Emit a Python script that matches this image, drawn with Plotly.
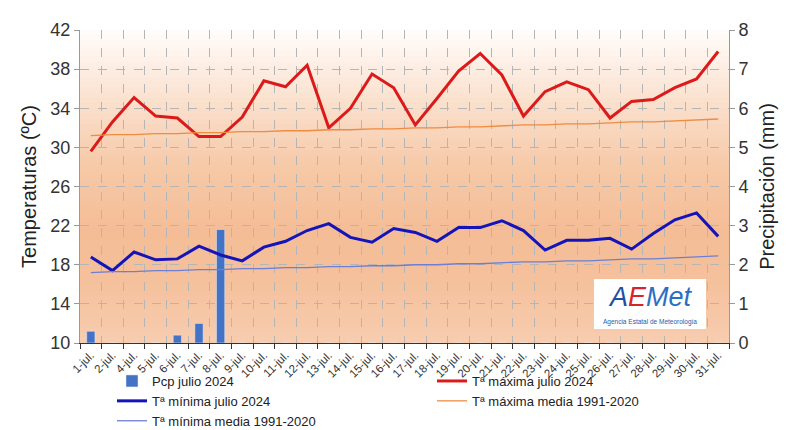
import plotly.graph_objects as go

days = ["1-jul.", "2-jul.", "4-jul.", "5-jul.", "6-jul.", "7-jul.", "8-jul.", "9-jul.", "10-jul.",
        "11-jul.", "12-jul.", "13-jul.", "14-jul.", "15-jul.", "16-jul.", "17-jul.", "18-jul.",
        "19-jul.", "20-jul.", "21-jul.", "22-jul.", "23-jul.", "24-jul.", "25-jul.", "26-jul.",
        "27-jul.", "28-jul.", "29-jul.", "30-jul.", "31-jul."]

pcp = [0.3, 0, 0, 0, 0.2, 0.5, 2.9, 0, 0, 0, 0, 0, 0, 0, 0,
       0, 0, 0, 0, 0, 0, 0, 0, 0, 0, 0, 0, 0, 0, 0]

tmax = [29.6, 32.6, 35.1, 33.2, 33.0, 31.1, 31.1, 33.1, 36.8, 36.2, 38.4, 32.0, 34.0, 37.5, 36.1,
        32.3, 35.0, 37.8, 39.6, 37.4, 33.2, 35.7, 36.7, 35.9, 33.0, 34.7, 34.9, 36.1, 37.0, 39.8]

tmin = [18.8, 17.4, 19.3, 18.5, 18.6, 19.9, 19.0, 18.4, 19.8, 20.4, 21.5, 22.2, 20.8, 20.3, 21.7,
        21.3, 20.4, 21.8, 21.8, 22.5, 21.5, 19.5, 20.5, 20.5, 20.7, 19.6, 21.2, 22.6, 23.3, 20.9]

tmax_mean = [31.2, 31.3, 31.3, 31.4, 31.4, 31.5, 31.5, 31.6, 31.6, 31.7, 31.7, 31.8, 31.8, 31.9, 31.9,
             32.0, 32.0, 32.1, 32.1, 32.2, 32.3, 32.3, 32.4, 32.4, 32.5, 32.6, 32.6, 32.7, 32.8, 32.9]

tmin_mean = [17.2, 17.3, 17.3, 17.4, 17.4, 17.5, 17.5, 17.6, 17.6, 17.7, 17.7, 17.8, 17.8, 17.9, 17.9,
             18.0, 18.0, 18.1, 18.1, 18.2, 18.3, 18.3, 18.4, 18.4, 18.5, 18.6, 18.6, 18.7, 18.8, 18.9]

temp_ticks = [10, 14, 18, 22, 26, 30, 34, 38, 42]
pcp_ticks = [0, 1, 2, 3, 4, 5, 6, 7, 8]

FONT = "Liberation Sans, Arial, sans-serif"

fig = go.Figure()
fig.add_trace(go.Bar(x=days, y=pcp, name="Pcp julio 2024", marker_color="#4472C4",
                     width=0.38, yaxis="y"))
fig.add_trace(go.Scatter(x=days, y=tmax, name="Tª máxima julio 2024", mode="lines",
                         line=dict(color="#DD1A1A", width=3), yaxis="y2"))
fig.add_trace(go.Scatter(x=days, y=tmin, name="Tª mínima julio 2024", mode="lines",
                         line=dict(color="#1414B8", width=3), yaxis="y2"))
fig.add_trace(go.Scatter(x=days, y=tmax_mean, name="Tª máxima media 1991-2020", mode="lines",
                         line=dict(color="#EE8C40", width=1.3), yaxis="y2"))
fig.add_trace(go.Scatter(x=days, y=tmin_mean, name="Tª mínima media 1991-2020", mode="lines",
                         line=dict(color="#6E7FD2", width=1.3), yaxis="y2"))

# vertical background gradient stops (position from bottom, rgb)
stops = [(0.0, (247, 205, 176)), (0.2, (245, 192, 156)), (0.35, (244, 189, 150)),
         (0.55, (246, 200, 166)), (0.7, (249, 216, 192)), (0.85, (252, 234, 221)),
         (1.0, (255, 253, 251))]


def color_at(t):
    for (p0, c0), (p1, c1) in zip(stops[:-1], stops[1:]):
        if p0 <= t <= p1:
            f = (t - p0) / (p1 - p0)
            c = [round(a + (b - a) * f) for a, b in zip(c0, c1)]
            return "rgb(%d,%d,%d)" % tuple(c)
    return "rgb(%d,%d,%d)" % stops[-1][1]


shapes = []
n = 60
for i in range(n):
    shapes.append(dict(type="rect", xref="x domain", yref="y domain",
                       x0=0, x1=1, y0=i / n, y1=(i + 1) / n + 0.003,
                       fillcolor=color_at((i + 0.5) / n), line=dict(width=0), layer="below"))
# logo box
shapes.append(dict(type="rect", xref="paper", yref="paper",
                   x0=(586 - 72) / 649, x1=(698 - 72) / 649,
                   y0=(335 - 321) / 313.3, y1=(335 - 271) / 313.3,
                   fillcolor="white", line=dict(width=0), layer="above"))

fig.update_layout(
    width=795, height=430,
    margin=dict(l=72, r=74, t=22, b=95, autoexpand=False),
    paper_bgcolor="white", plot_bgcolor="white",
    font=dict(family=FONT, color="#222"),
    shapes=shapes,
    showlegend=True,
    legend=dict(orientation="h", xref="container", yref="container",
                x=104 / 795, y=1 - 358 / 430, xanchor="left", yanchor="top",
                font=dict(size=13, color="#222"), entrywidth=275, entrywidthmode="pixels",
                bgcolor="rgba(0,0,0,0)", traceorder="normal", itemwidth=30),
    xaxis=dict(type="category", tickson="boundaries", ticks="outside", ticklen=5,
               tickcolor="#333", tickangle=-45, tickfont=dict(size=11.5, color="#333"),
               showline=True, linecolor="#333", linewidth=1,
               showgrid=True, gridcolor="#B5B5B5", griddash="dash", gridwidth=1),
    yaxis=dict(range=[0, 8], tickvals=pcp_ticks, side="right", ticks="outside", ticklen=5,
               tickcolor="#999", tickfont=dict(size=18, color="#333"),
               showline=True, linecolor="#999", linewidth=1,
               showgrid=True, gridcolor="#B5B5B5", griddash="dash", gridwidth=1,
               zeroline=False,
               title=dict(text="Precipitación (mm)", font=dict(size=20, color="#222"), standoff=12)),
    yaxis2=dict(range=[10, 42], tickvals=temp_ticks, side="left", overlaying="y",
                ticks="outside", ticklen=5, tickcolor="#999",
                tickfont=dict(size=18, color="#333"),
                showline=True, linecolor="#999", linewidth=1, showgrid=False, zeroline=False,
                title=dict(text="Temperaturas (ºC)", font=dict(size=20, color="#222"), standoff=8)),
    annotations=[
        dict(xref="paper", yref="paper", x=(642 - 72) / 649, y=(335 - 289) / 313.3,
             text="<i><span style='color:#1E4FA3'>A</span><span style='color:#D8232A'>E</span>"
                  "<span style='color:#2A6FC4'>Met</span></i>",
             showarrow=False, font=dict(size=27, family=FONT), xanchor="center", yanchor="middle"),
        dict(xref="paper", yref="paper", x=(642 - 72) / 649, y=(335 - 314) / 313.3,
             text="Agencia Estatal de Meteorología", showarrow=False,
             font=dict(size=6.5, color="#2A5AAA", family=FONT), xanchor="center", yanchor="middle"),
    ],
)

fig.write_html("out.html")
